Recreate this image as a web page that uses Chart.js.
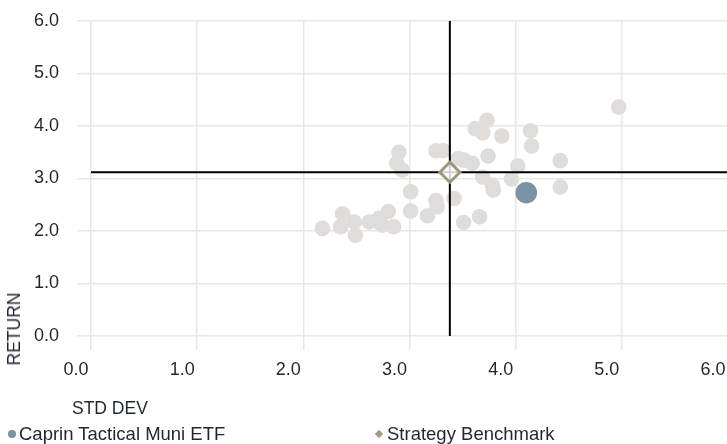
<!DOCTYPE html>
<html>
<head>
<meta charset="utf-8">
<script src="https://cdn.jsdelivr.net/npm/chart.js@4"></script>
<style>
  body { margin: 0; background: #fff; overflow: hidden; }
  #wrap { position: relative; width: 727px; height: 444px; overflow: hidden;
          font-family: "Liberation Sans", Arial, sans-serif; color: #1e2633; }
  #chart { position: absolute; left: 0; top: 0; }
  .lbl { position: absolute; white-space: nowrap; line-height: 20px; }
  #ytitle { left: 14px; top: 329px; font-size: 17.5px; transform: translate(-50%, -50%) rotate(-90deg); }
  #xtitle { left: 72px; top: 398px; font-size: 17.5px; }
  .legend { top: 424px; font-size: 18.5px; }
  .dot { display: inline-block; width: 8px; height: 8px; border-radius: 50%; background: #7a93a6; margin-right: 3px; vertical-align: 2px; }
  .dia { display: inline-block; width: 6px; height: 6px; background: #a39b82; transform: rotate(45deg); margin-right: 5px; vertical-align: 3px; }
</style>
</head>
<body>
<div id="wrap">
  <!-- a bit wider than the window so the 6.0 gridline lands on the right edge -->
  <canvas id="chart" width="741" height="444"></canvas>
  <div class="lbl" id="ytitle">RETURN</div>
  <div class="lbl" id="xtitle">STD DEV</div>
  <div class="lbl legend" style="left:8px"><span class="dot"></span>Caprin Tactical Muni ETF</div>
  <div class="lbl legend" style="left:376px"><span class="dia"></span>Strategy Benchmark</div>
</div>
<script>
// peer funds: std dev / return
let peerStd = [2.18, 2.37, 2.35, 2.48, 2.49, 2.62, 2.71, 2.80, 2.74, 2.85, 3.01, 3.01, 3.17, 3.25, 3.26,
               3.42, 3.51, 3.66, 2.90, 2.88, 2.93, 3.25, 3.32, 3.46, 3.51, 3.59, 3.74, 3.69, 3.78, 3.79,
               3.96, 4.02, 4.42, 4.42, 3.62, 3.69, 3.73, 3.87, 4.14, 4.15, 4.97];
let peerRet = [2.05, 2.33, 2.08, 2.17, 1.92, 2.17, 2.24, 2.37, 2.11, 2.08, 2.75, 2.38, 2.29, 2.58, 2.46,
               2.62, 2.16, 2.27, 3.50, 3.29, 3.16, 3.53, 3.53, 3.38, 3.35, 3.29, 3.43, 3.03, 2.87, 2.78,
               2.99, 3.24, 3.34, 2.84, 3.95, 3.87, 4.11, 3.81, 3.91, 3.62, 4.36];

let fundStd = [4.10];
let fundRet = [2.73];

let benchStd = [3.38];
let benchRet = [3.12];

let axisTicks = [0, 1, 2, 3, 4, 5, 6];

function toPoints(xs, ys) {
    return xs.map((x, i) => ({x: x, y: ys[i]}));
}

let tickFont = {family: '"Liberation Sans", Arial, sans-serif', size: 18};
let gridColor = '#ebe7e0';

let ctx = document.getElementById('chart').getContext('2d');

new Chart(ctx, {
    type: 'scatter',

    data: {
        datasets: [{
            label: 'Strategy Benchmark',
            data: toPoints(benchStd, benchRet),
            pointStyle: 'rectRot',
            pointRadius: 10,
            backgroundColor: 'rgba(255, 255, 255, 0.82)',
            borderColor: '#9d967d',
            borderWidth: 3,
            order: 0
        }, {
            label: 'Caprin Tactical Muni ETF',
            data: toPoints(fundStd, fundRet),
            pointRadius: 10.8,
            backgroundColor: '#7a93a6',
            borderWidth: 0,
            order: 1
        }, {
            label: 'benchmark std',
            data: [{x: benchStd[0], y: axisTicks[0]}, {x: benchStd[0], y: axisTicks[axisTicks.length - 1]}],
            showLine: true,
            pointRadius: 0,
            borderColor: '#000',
            borderWidth: 2,
            order: 2
        }, {
            label: 'benchmark return',
            data: [{x: axisTicks[0], y: benchRet[0]}, {x: axisTicks[axisTicks.length - 1], y: benchRet[0]}],
            showLine: true,
            pointRadius: 0,
            borderColor: '#000',
            borderWidth: 2,
            order: 2
        }, {
            label: 'Peers',
            data: toPoints(peerStd, peerRet),
            pointRadius: 7.8,
            backgroundColor: '#e0dcda',
            borderWidth: 0,
            order: 3
        }]
    },

    options: {
        responsive: false,
        animation: false,
        layout: {padding: {top: 21, left: 0, right: 0, bottom: 0}},
        plugins: {
            legend: {display: false},
            tooltip: {enabled: false}
        },
        scales: {
            x: {
                type: 'linear',
                min: axisTicks[0],
                max: axisTicks[axisTicks.length - 1],
                afterBuildTicks: s => { s.ticks = axisTicks.map(v => ({value: v})); },
                afterFit: s => { s.height = 108; s.paddingLeft = 0; s.paddingRight = 0; },
                grid: {color: gridColor, lineWidth: 1.5, tickLength: 14},
                border: {display: false},
                ticks: {
                    font: tickFont,
                    color: '#1e2633',
                    padding: 9,
                    labelOffset: -15,
                    maxRotation: 0,
                    callback: v => v.toFixed(1)
                }
            },
            y: {
                type: 'linear',
                min: axisTicks[0],
                max: axisTicks[axisTicks.length - 1],
                afterBuildTicks: s => { s.ticks = axisTicks.map(v => ({value: v})); },
                afterFit: s => { s.width = 91; s.paddingTop = 0; s.paddingBottom = 0; },
                grid: {color: gridColor, lineWidth: 1.5, tickLength: 14},
                border: {display: false},
                ticks: {
                    font: tickFont,
                    color: '#1e2633',
                    padding: 18,
                    callback: v => v.toFixed(1)
                }
            }
        }
    }
});
</script>
</body>
</html>
